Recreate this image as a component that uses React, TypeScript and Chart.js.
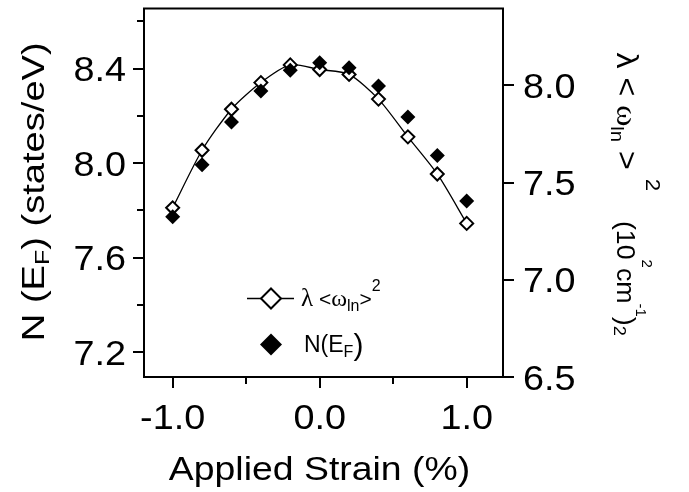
import React, { useEffect, useRef } from 'react';
import { Chart, registerables } from 'chart.js';

Chart.register(...registerables);

// ---- data ----
const strain = [-1.0, -0.8, -0.6, -0.4, -0.2, 0.0, 0.2, 0.4, 0.6, 0.8, 1.0];
const nEF = [7.774, 7.993, 8.174, 8.305, 8.393, 8.425, 8.403, 8.326, 8.195, 8.032, 7.84];
const lambdaOmega2 = [7.37, 7.666, 7.877, 8.014, 8.105, 8.081, 8.056, 7.929, 7.735, 7.544, 7.29];

const xTicks = [-1.0, 0.0, 1.0];
const xMinorTicks = [-0.5, 0.5];
const leftTicks = [7.2, 7.6, 8.0, 8.4];
const leftMinorTicks = [7.4, 7.8, 8.2, 8.6];
const rightTicks = [6.5, 7.0, 7.5, 8.0];

const xMin = -1.195;
const xMax = 1.247;
const leftMin = 7.096;
const leftMax = 8.654;
const rightMin = 6.5;
const rightMax = 8.395;

const SANS = '"Liberation Sans", Arial, Helvetica, sans-serif';
const SERIF = '"Liberation Serif", "Times New Roman", serif';

type Seg = { t: string; size: number; dy?: number; family?: string };

function drawRich(
  ctx: CanvasRenderingContext2D,
  segs: Seg[],
  x: number,
  y: number,
  rot: number,
  align: 'left' | 'center' | 'right',
  sx: number
) {
  ctx.save();
  ctx.translate(x, y);
  ctx.rotate(rot);
  ctx.scale(sx, 1);
  ctx.textBaseline = 'alphabetic';
  ctx.textAlign = 'left';
  ctx.fillStyle = '#000';
  let total = 0;
  for (const s of segs) {
    ctx.font = `${s.size}px ${s.family || SANS}`;
    total += ctx.measureText(s.t).width;
  }
  let cx = align === 'left' ? 0 : align === 'center' ? -total / 2 : -total;
  for (const s of segs) {
    ctx.font = `${s.size}px ${s.family || SANS}`;
    ctx.fillText(s.t, cx, -(s.dy || 0));
    cx += ctx.measureText(s.t).width;
  }
  ctx.restore();
}

function diamond(ctx: CanvasRenderingContext2D, x: number, y: number, r: number, filled: boolean) {
  ctx.save();
  ctx.beginPath();
  ctx.moveTo(x, y - r);
  ctx.lineTo(x + r, y);
  ctx.lineTo(x, y + r);
  ctx.lineTo(x - r, y);
  ctx.closePath();
  if (filled) {
    ctx.fillStyle = '#000';
    ctx.fill();
  } else {
    ctx.fillStyle = '#fff';
    ctx.fill();
    ctx.lineWidth = 2;
    ctx.strokeStyle = '#000';
    ctx.stroke();
  }
  ctx.restore();
}

const TICK_FS = 35;
const TICK_SX = 1.08;

const decorPlugin = {
  id: 'decor',
  afterDraw(chart: any) {
    const ctx: CanvasRenderingContext2D = chart.ctx;
    const { left, right, top, bottom } = chart.chartArea;
    const sx = chart.scales.x;
    const sy = chart.scales.y;
    const sy1 = chart.scales.y1;
    const capHalf = (TICK_FS * 0.716) / 2;

    ctx.save();
    ctx.strokeStyle = '#000';
    ctx.lineWidth = 2;
    ctx.beginPath();
    ctx.moveTo(left - 1, top);
    ctx.lineTo(right + 1, top);
    ctx.stroke();
    for (const v of xMinorTicks) {
      const px = Math.round(sx.getPixelForValue(v));
      ctx.beginPath();
      ctx.moveTo(px, bottom);
      ctx.lineTo(px, bottom + 7);
      ctx.stroke();
    }
    for (const v of leftMinorTicks) {
      const py = Math.round(sy.getPixelForValue(v));
      ctx.beginPath();
      ctx.moveTo(left - 7, py);
      ctx.lineTo(left, py);
      ctx.stroke();
    }
    ctx.restore();

    for (const v of xTicks) {
      drawRich(ctx, [{ t: v.toFixed(1), size: TICK_FS }], sx.getPixelForValue(v), bottom + 52, 0, 'center', TICK_SX);
    }
    for (const v of leftTicks) {
      drawRich(ctx, [{ t: v.toFixed(1), size: TICK_FS }], left - 18, sy.getPixelForValue(v) + capHalf, 0, 'right', TICK_SX);
    }
    for (const v of rightTicks) {
      drawRich(ctx, [{ t: v.toFixed(1), size: TICK_FS }], right + 20, sy1.getPixelForValue(v) + capHalf, 0, 'left', TICK_SX);
    }

    drawRich(ctx, [{ t: 'Applied Strain (%)', size: 34 }], (left + right) / 2 - 4, bottom + 103, 0, 'center', 1.1);

    drawRich(
      ctx,
      [
        { t: 'N (E', size: 32 },
        { t: 'F', size: 21, dy: -5 },
        { t: ') (states/eV)', size: 32 },
      ],
      44,
      (top + bottom) / 2 - 1,
      -Math.PI / 2,
      'center',
      1.19
    );

    drawRich(
      ctx,
      [
        { t: 'λ', size: 30 },
        { t: ' < ', size: 30 },
        { t: 'ω', size: 30, family: SERIF },
        { t: 'ln', size: 19, dy: -6 },
        { t: ' > ', size: 30 },
        { t: '2', size: 21, dy: 29 },
        { t: '    (10', size: 25 },
        { t: '2', size: 14, dy: 25 },
        { t: 'cm', size: 25 },
        { t: '-1', size: 14, dy: 19 },
        { t: ')', size: 25 },
        { t: '2', size: 17, dy: -3 },
      ],
      right + 114,
      top + 44,
      Math.PI / 2,
      'left',
      1.07
    );

    // legend
    const lx = left + 127;
    const ly1 = top + 290;
    const ly2 = top + 336;
    ctx.save();
    ctx.strokeStyle = '#000';
    ctx.lineWidth = 1.5;
    ctx.beginPath();
    ctx.moveTo(lx - 24, ly1);
    ctx.lineTo(lx + 23, ly1);
    ctx.stroke();
    ctx.restore();
    diamond(ctx, lx, ly1, 10, false);
    diamond(ctx, lx, ly2, 11, true);
    drawRich(
      ctx,
      [
        { t: 'λ', size: 25, family: SERIF },
        { t: ' <', size: 21 },
        { t: 'ω', size: 24, family: SERIF },
        { t: 'ln', size: 16, dy: -5 },
        { t: '>', size: 21 },
        { t: '2', size: 16, dy: 15 },
      ],
      left + 157,
      top + 297,
      0,
      'left',
      1.0
    );
    drawRich(
      ctx,
      [
        { t: 'N(E', size: 23 },
        { t: 'F', size: 16, dy: -5 },
        { t: ')', size: 30, dy: -3 },
      ],
      left + 160,
      top + 343,
      0,
      'left',
      1.0
    );
  },
};

export default function App() {
  const ref = useRef<HTMLCanvasElement | null>(null);

  useEffect(() => {
    if (!ref.current) return;
    const gridOpts = {
      drawOnChartArea: false,
      drawTicks: true,
      tickLength: 11,
      color: '#000',
      lineWidth: 2,
      tickWidth: 2,
    };
    const borderOpts = { display: true, color: '#000', width: 2 };
    const chart = new Chart(ref.current, {
      type: 'line',
      data: {
        datasets: [
          {
            label: 'N(EF)',
            data: strain.map((x, i) => ({ x, y: nEF[i] })),
            yAxisID: 'y',
            showLine: false,
            pointStyle: 'rectRot',
            pointRadius: 7.5,
            pointBackgroundColor: '#000',
            pointBorderColor: '#000',
            pointBorderWidth: 0,
            borderColor: '#000',
            backgroundColor: '#000',
          },
          {
            label: 'lambda omega^2',
            data: strain.map((x, i) => ({ x, y: lambdaOmega2[i] })),
            yAxisID: 'y1',
            showLine: true,
            tension: 0.25,
            borderColor: '#000',
            borderWidth: 1.3,
            pointStyle: 'rectRot',
            pointRadius: 6.5,
            pointBackgroundColor: '#fff',
            pointBorderColor: '#000',
            pointBorderWidth: 2,
            fill: false,
          },
        ],
      },
      options: {
        animation: false,
        responsive: false,
        devicePixelRatio: 1,
        layout: { padding: { top: 4, left: 0, right: 0, bottom: 0 } },
        plugins: { legend: { display: false }, tooltip: { enabled: false } },
        scales: {
          x: {
            type: 'linear',
            position: 'bottom',
            min: xMin,
            max: xMax,
            grid: gridOpts,
            border: borderOpts,
            ticks: { display: false },
            afterBuildTicks: (s: any) => {
              s.ticks = xTicks.map((v) => ({ value: v }));
            },
            afterFit: (s: any) => {
              s.height = 115;
            },
          },
          y: {
            type: 'linear',
            position: 'left',
            min: leftMin,
            max: leftMax,
            grid: gridOpts,
            border: borderOpts,
            ticks: { display: false },
            afterBuildTicks: (s: any) => {
              s.ticks = leftTicks.map((v) => ({ value: v }));
            },
            afterFit: (s: any) => {
              s.width = 144;
            },
          },
          y1: {
            type: 'linear',
            position: 'right',
            min: rightMin,
            max: rightMax,
            grid: gridOpts,
            border: borderOpts,
            ticks: { display: false },
            afterBuildTicks: (s: any) => {
              s.ticks = rightTicks.map((v) => ({ value: v }));
            },
            afterFit: (s: any) => {
              s.width = 186;
            },
          },
        },
      } as any,
      plugins: [decorPlugin],
    });
    return () => chart.destroy();
  }, []);

  return (
    <div style={{ position: 'fixed', left: 0, top: 0, width: 689, height: 492, background: '#fff' }}>
      <canvas ref={ref} width={689} height={492} style={{ width: 689, height: 492 }} />
    </div>
  );
}
